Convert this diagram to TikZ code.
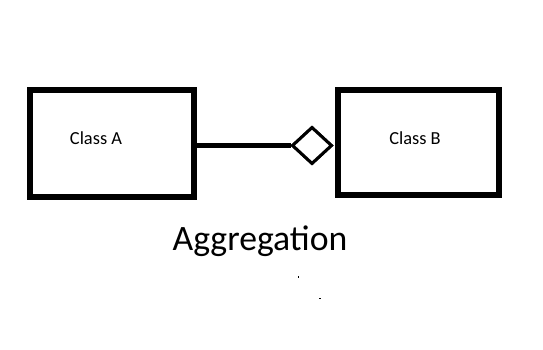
\documentclass[tikz,border=0pt]{standalone}
\usepackage{fontspec}
\setmainfont{Carlito}
\usetikzlibrary{shapes.geometric, positioning}
\tikzset{
  % thick outlines like a quick paint sketch
  classbox/.style = {draw=black, line width=6pt, rectangle, inner sep=0pt},
  clsname/.style  = {font=\fontsize{18.4}{20}\selectfont, inner sep=0pt},
  assoc/.style    = {draw=black, line width=5pt},
  aggdiamond/.style = {diamond, draw=black, fill=white, line width=3pt,
                       inner sep=0pt, minimum width=40pt, minimum height=37pt},
  caption/.style  = {font=\fontsize{35.7}{40}\selectfont, inner sep=0pt},
}

\begin{document}
\begin{tikzpicture}[x=1pt, y=-1pt]
  \useasboundingbox (0,0) rectangle (543,350);
  % the two classes
  \node[classbox, minimum width=164pt, minimum height=107pt] (A) at (112,143.5) {};
  \node[classbox, minimum width=161pt, minimum height=105pt] (B) at (418.5,142.5) {};
  \node[clsname] (Aname) at (96,138) {Class A};
  \node[clsname] (Bname) at (415,138) {Class B};
  % hollow diamond on the whole side
  \node[aggdiamond] (agg) at (312,145.5) {};
  \draw[assoc] (agg.west -| A.east) -- (agg.west);
  \node[aggdiamond] at (agg) {};
  % caption
  \node[caption] (title) at (260,241) {Aggregation};
  % stray specks below the caption
  \fill (297.5,276) rectangle (298.5,278);
  \fill (319,298) rectangle (321,299);
\end{tikzpicture}
\end{document}
